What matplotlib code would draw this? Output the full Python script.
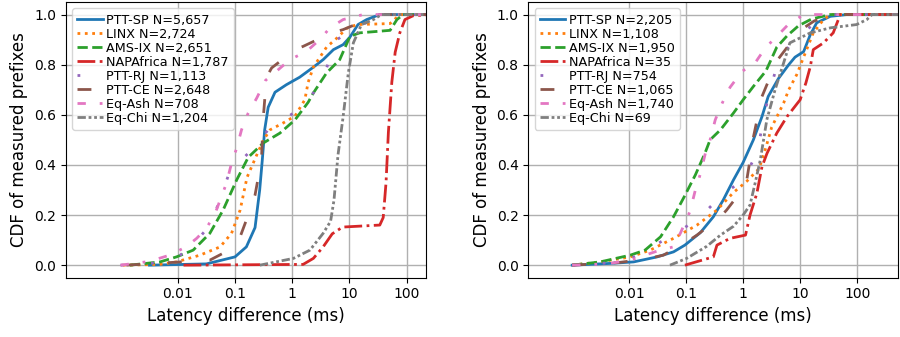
import matplotlib
matplotlib.use("Agg")
import matplotlib.pyplot as plt
from matplotlib.ticker import NullLocator

# names and sample sizes
names = ["PTT-SP", "LINX", "AMS-IX", "NAPAfrica", "PTT-RJ", "PTT-CE", "Eq-Ash", "Eq-Chi"]
n_left = ["5,657", "2,724", "2,651", "1,787", "1,113", "2,648", "708", "1,204"]
n_right = ["2,205", "1,108", "1,950", "35", "754", "1,065", "1,740", "69"]

# left panel: latency difference (ms) and CDF
sp_l_x = [0.0032, 0.0316, 0.1, 0.158, 0.224, 0.27, 0.30, 0.33, 0.38, 0.50, 0.79, 1.35, 2.34, 3.47, 5.25, 7.76, 10.2, 14.1, 20, 33.9, 250]
sp_l_y = [0, 0.005, 0.033, 0.073, 0.15, 0.30, 0.42, 0.54, 0.63, 0.69, 0.72, 0.75, 0.79, 0.82, 0.86, 0.88, 0.91, 0.96, 0.98, 1.0, 1.0]
linx_l_x = [0.0011, 0.0049, 0.0095, 0.0245, 0.055, 0.087, 0.123, 0.162, 0.24, 0.316, 0.41, 0.69, 1.12, 1.66, 1.9, 2.34, 3.98, 6.31, 8.91, 13.5, 51.3, 75.9, 250]
linx_l_y = [0, 0.003, 0.013, 0.04, 0.073, 0.127, 0.22, 0.35, 0.44, 0.50, 0.54, 0.567, 0.595, 0.66, 0.73, 0.79, 0.87, 0.91, 0.945, 0.96, 0.964, 1.0, 1.0]
ams_l_x = [0.00145, 0.0049, 0.0095, 0.0186, 0.0363, 0.062, 0.107, 0.17, 0.31, 0.61, 1.12, 1.9, 2.34, 3.98, 6.76, 10.2, 15.1, 51.3, 67.6, 87, 250]
ams_l_y = [0, 0.013, 0.033, 0.06, 0.127, 0.22, 0.34, 0.43, 0.487, 0.527, 0.58, 0.65, 0.687, 0.767, 0.82, 0.913, 0.927, 0.937, 0.98, 1.0, 1.0]
nap_l_x = [0.0126, 1.55, 2.34, 3.47, 5.0, 7.59, 33.9, 38.9, 43.6, 47.9, 55, 63, 75.9, 93.3, 129, 250]
nap_l_y = [0, 0.003, 0.027, 0.073, 0.125, 0.152, 0.16, 0.19, 0.33, 0.53, 0.73, 0.85, 0.927, 0.98, 0.995, 1.0]
rj_l_x = [0.001, 0.005, 0.0095, 0.02, 0.039, 0.055, 0.081, 0.182, 0.38, 1.05, 2.34, 3.98, 6.03, 16.2, 47.9, 250]
rj_l_y = [0, 0.01, 0.027, 0.09, 0.167, 0.267, 0.373, 0.453, 0.54, 0.607, 0.687, 0.787, 0.90, 0.96, 1.0, 1.0]
ce_l_x = [0.00126, 0.0363, 0.079, 0.117, 0.158, 0.224, 0.29, 0.31, 0.355, 0.437, 1.12, 1.55, 4.9, 7.76, 17.4, 33.9, 250]
ce_l_y = [0, 0.02, 0.06, 0.10, 0.18, 0.28, 0.42, 0.58, 0.75, 0.787, 0.86, 0.873, 0.927, 0.94, 0.973, 1.0, 1.0]
ash_l_x = [0.001, 0.0032, 0.0072, 0.014, 0.0214, 0.0316, 0.045, 0.071, 0.087, 0.107, 0.13, 0.17, 0.24, 0.34, 0.57, 0.91, 1.78, 3.02, 4.57, 7.76, 17.4, 250]
ash_l_y = [0, 0.015, 0.04, 0.073, 0.107, 0.147, 0.207, 0.327, 0.407, 0.467, 0.54, 0.607, 0.667, 0.737, 0.78, 0.82, 0.853, 0.90, 0.947, 0.98, 1.0, 1.0]
chi_l_x = [0.272, 1.05, 2.04, 3.47, 4.68, 5.37, 6.31, 7.76, 9.55, 11.7, 16.2, 26.3, 36.3, 250]
chi_l_y = [0, 0.027, 0.06, 0.127, 0.175, 0.26, 0.44, 0.593, 0.767, 0.887, 0.96, 0.98, 1.0, 1.0]

# right panel
sp_r_x = [0.001, 0.0047, 0.012, 0.031, 0.06, 0.095, 0.178, 0.30, 0.447, 0.676, 1.0, 1.51, 2.14, 2.75, 4.17, 6.31, 8.13, 11.5, 15.1, 19.5, 33.9, 66, 600]
sp_r_y = [0, 0.007, 0.013, 0.033, 0.053, 0.08, 0.13, 0.193, 0.26, 0.34, 0.41, 0.50, 0.593, 0.673, 0.745, 0.80, 0.83, 0.852, 0.92, 0.967, 0.993, 1.0, 1.0]
linx_r_x = [0.001, 0.0031, 0.0105, 0.0234, 0.06, 0.155, 0.347, 0.676, 1.16, 1.9, 2.51, 3.16, 5.13, 6.31, 8.7, 11.5, 17, 25.7, 33.9, 600]
linx_r_y = [0, 0.013, 0.033, 0.06, 0.107, 0.16, 0.22, 0.29, 0.335, 0.385, 0.47, 0.55, 0.647, 0.70, 0.76, 0.83, 0.927, 0.98, 1.0, 1.0]
ams_r_x = [0.001, 0.0031, 0.0105, 0.019, 0.0355, 0.06, 0.091, 0.145, 0.214, 0.263, 0.40, 0.676, 1.0, 1.51, 2.51, 3.89, 5.89, 9.33, 15.8, 33.9, 600]
ams_r_y = [0, 0.013, 0.04, 0.06, 0.113, 0.193, 0.27, 0.36, 0.447, 0.50, 0.54, 0.607, 0.66, 0.713, 0.775, 0.87, 0.915, 0.955, 0.982, 1.0, 1.0]
nap_r_x = [0.095, 0.30, 0.347, 0.59, 1.1, 1.32, 1.74, 2.14, 2.63, 3.89, 5.89, 10, 12.6, 15.1, 17, 25.7, 38, 46.8, 50.1, 600]
nap_r_y = [0, 0.033, 0.08, 0.107, 0.12, 0.20, 0.287, 0.393, 0.447, 0.527, 0.593, 0.66, 0.727, 0.793, 0.86, 0.887, 0.927, 0.98, 1.0, 1.0]
rj_r_x = [0.001, 0.005, 0.0105, 0.028, 0.069, 0.19, 0.43, 1.0, 1.74, 2.75, 3.89, 7.08, 17, 29.5, 600]
rj_r_y = [0, 0.01, 0.025, 0.08, 0.127, 0.20, 0.28, 0.34, 0.447, 0.673, 0.793, 0.893, 0.96, 1.0, 1.0]
ce_r_x = [0.001, 0.0063, 0.02, 0.04, 0.102, 0.155, 0.40, 0.513, 1.12, 1.32, 1.51, 2.14, 3.89, 10, 17.8, 43.6, 600]
ce_r_y = [0, 0.01, 0.025, 0.04, 0.093, 0.12, 0.193, 0.22, 0.32, 0.42, 0.51, 0.673, 0.815, 0.937, 0.975, 1.0, 1.0]
ash_r_x = [0.001, 0.004, 0.0105, 0.0347, 0.06, 0.079, 0.117, 0.145, 0.178, 0.219, 0.263, 0.324, 0.43, 0.59, 0.955, 1.62, 2.45, 4.17, 6.17, 11.5, 600]
ash_r_y = [0, 0.005, 0.02, 0.06, 0.073, 0.127, 0.215, 0.30, 0.365, 0.45, 0.50, 0.58, 0.647, 0.71, 0.773, 0.807, 0.867, 0.92, 0.96, 1.0, 1.0]
chi_r_x = [0.052, 0.102, 0.229, 0.40, 0.676, 1.0, 1.32, 1.62, 2.0, 2.6, 3.63, 5.13, 6.6, 10, 15.1, 33.9, 97.7, 148, 182, 600]
chi_r_y = [0, 0.027, 0.075, 0.12, 0.155, 0.20, 0.24, 0.327, 0.42, 0.58, 0.70, 0.807, 0.887, 0.907, 0.927, 0.947, 0.96, 0.98, 1.0, 1.0]

xticks = [0.01, 0.1, 1, 10, 100]
xtick_labels = ["0.01", "0.1", "1", "10", "100"]
yticks = [0.0, 0.2, 0.4, 0.6, 0.8, 1.0]

styles = ["-", ":", "--", "-.", (0, (1, 10)), (0, (5, 10)), (0, (3, 5, 1, 5)), (0, (3, 1, 1, 1, 1, 1))]
colors = ["tab:blue", "tab:orange", "tab:green", "tab:red", "tab:purple", "tab:brown", "tab:pink", "tab:gray"]

left = [(sp_l_x, sp_l_y), (linx_l_x, linx_l_y), (ams_l_x, ams_l_y), (nap_l_x, nap_l_y),
        (rj_l_x, rj_l_y), (ce_l_x, ce_l_y), (ash_l_x, ash_l_y), (chi_l_x, chi_l_y)]
right = [(sp_r_x, sp_r_y), (linx_r_x, linx_r_y), (ams_r_x, ams_r_y), (nap_r_x, nap_r_y),
         (rj_r_x, rj_r_y), (ce_r_x, ce_r_y), (ash_r_x, ash_r_y), (chi_r_x, chi_r_y)]

fig = plt.figure(figsize=(9, 3.37), dpi=100)
ax1 = fig.add_axes([0.073, 0.176, 0.400, 0.818])
ax2 = fig.add_axes([0.587, 0.176, 0.411, 0.818])

for ax, series, counts, xlim in [(ax1, left, n_left, (1.1e-4, 215)), (ax2, right, n_right, (1.7e-4, 525))]:
    for (x, y), name, n, ls, c in zip(series, names, counts, styles, colors):
        ax.plot(x, y, linestyle=ls, color=c, lw=2, label=f"{name} N={n}")
    ax.set_xscale("log")
    ax.set_xlim(*xlim)
    ax.set_ylim(-0.05, 1.05)
    ax.set_xticks(xticks, xtick_labels)
    ax.xaxis.set_minor_locator(NullLocator())
    ax.set_yticks(yticks)
    ax.tick_params(labelsize=10)
    ax.grid(True, lw=1)
    ax.set_xlabel("Latency difference (ms)", fontsize=12)
    ax.set_ylabel("CDF of measured prefixes", fontsize=12)
    ax.legend(loc="upper left", fontsize=9.2, labelspacing=0.08, handletextpad=0.25)

fig.savefig("out.png", dpi=100)
